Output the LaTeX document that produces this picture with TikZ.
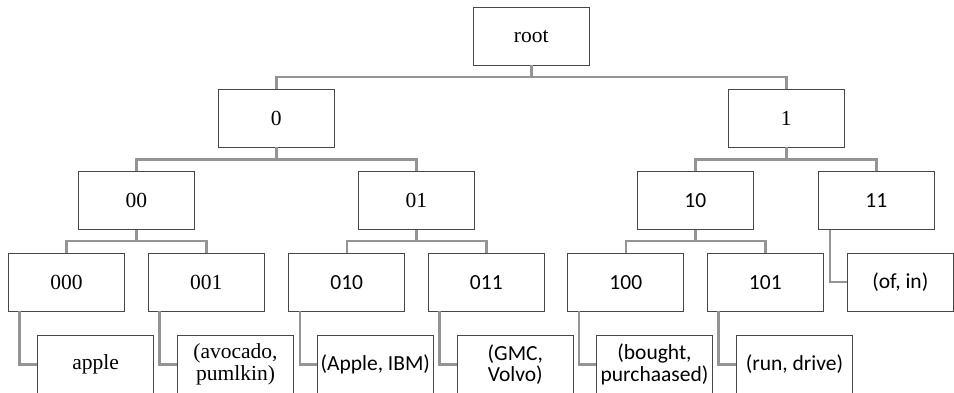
\documentclass[tikz,border=0pt]{standalone}
\usepackage{fontspec}
\setmainfont{Liberation Serif}
\newfontfamily\calfont{Carlito}
\begin{document}
\begin{tikzpicture}[x=1pt,y=-1pt,
  box/.style={draw=black!72, line width=0.8pt, fill=white, minimum width=116pt, minimum height=57.7pt, inner sep=2pt, align=center, font=\fontsize{21.5}{21.5}\selectfont},
  sbox/.style={box, font=\calfont\fontsize{21.5}{21.5}\selectfont},
  conn/.style={draw=black!42, line width=2.4pt}]
\useasboundingbox (0,0) rectangle (954,393);
\clip (0,0) rectangle (954,393);
\fill[white] (0,0) rectangle (954,393);
% level 0-1
\node[box] (root) at (531.3,36.2) {root};
\node[box] (n0) at (276.3,118.2) {0};
\node[box] (n1) at (786.3,118.2) {1};
% level 2
\node[box] (n00) at (136.3,200.5) {00};
\node[box] (n01) at (416.3,200.5) {01};
\node[sbox] (n10) at (695.3,200.5) {10};
\node[sbox] (n11) at (876.3,200.5) {11};
% level 3
\node[box] (n000) at (66.5,282.2) {000};
\node[box] (n001) at (206.3,282.2) {001};
\node[sbox] (n010) at (346.7,282.2) {010};
\node[sbox] (n011) at (486.3,282.2) {011};
\node[sbox] (n100) at (625.8,282.2) {100};
\node[sbox] (n101) at (765.3,282.2) {101};
\node[sbox, minimum width=106pt] (ofin) at (900.3,282.2) {(of, in)};
% leaves
\node[box] (apple) at (95.7,364.5) {apple};
\node[box] (avoc) at (235.5,364.5) {(avocado,\\pumlkin)};
\node[sbox] (ibm) at (375.3,364.5) {(Apple, IBM)};
\node[sbox] (gmc) at (515.3,364.5) {(GMC,\\Volvo)};
\node[sbox] (bought) at (654.5,364.5) {(bought,\\purchaased)};
\node[sbox] (run) at (794.5,364.5) {(run, drive)};
% connectors
\draw[conn] (root.south) -- ++(0,11.7) -| (n0.north);
\draw[conn] (root.south) -- ++(0,11.7) -| (n1.north);
\draw[conn] (n0.south) -- ++(0,12) -| (n00.north);
\draw[conn] (n0.south) -- ++(0,12) -| (n01.north);
\draw[conn] (n1.south) -- ++(0,12) -| (n10.north);
\draw[conn] (n1.south) -- ++(0,12) -| (n11.north);
\draw[conn] (n00.south) -- ++(0,11.4) -| (n000.north);
\draw[conn] (n00.south) -- ++(0,11.4) -| (n001.north);
\draw[conn] (n01.south) -- ++(0,11.4) -| (n010.north);
\draw[conn] (n01.south) -- ++(0,11.4) -| (n011.north);
\draw[conn] (n10.south) -- ++(0,11.4) -| (n100.north);
\draw[conn] (n10.south) -- ++(0,11.4) -| (n101.north);
\draw[conn] ([xshift=-46.3pt]n11.south) |- (ofin.west);
\draw[conn] ([xshift=11.5pt]n000.south west) |- (apple.west);
\draw[conn] ([xshift=11.5pt]n001.south west) |- (avoc.west);
\draw[conn] ([xshift=11.5pt]n010.south west) |- (ibm.west);
\draw[conn] ([xshift=11.5pt]n011.south west) |- (gmc.west);
\draw[conn] ([xshift=11.5pt]n100.south west) |- (bought.west);
\draw[conn] ([xshift=11.5pt]n101.south west) |- (run.west);
\end{tikzpicture}
\end{document}
